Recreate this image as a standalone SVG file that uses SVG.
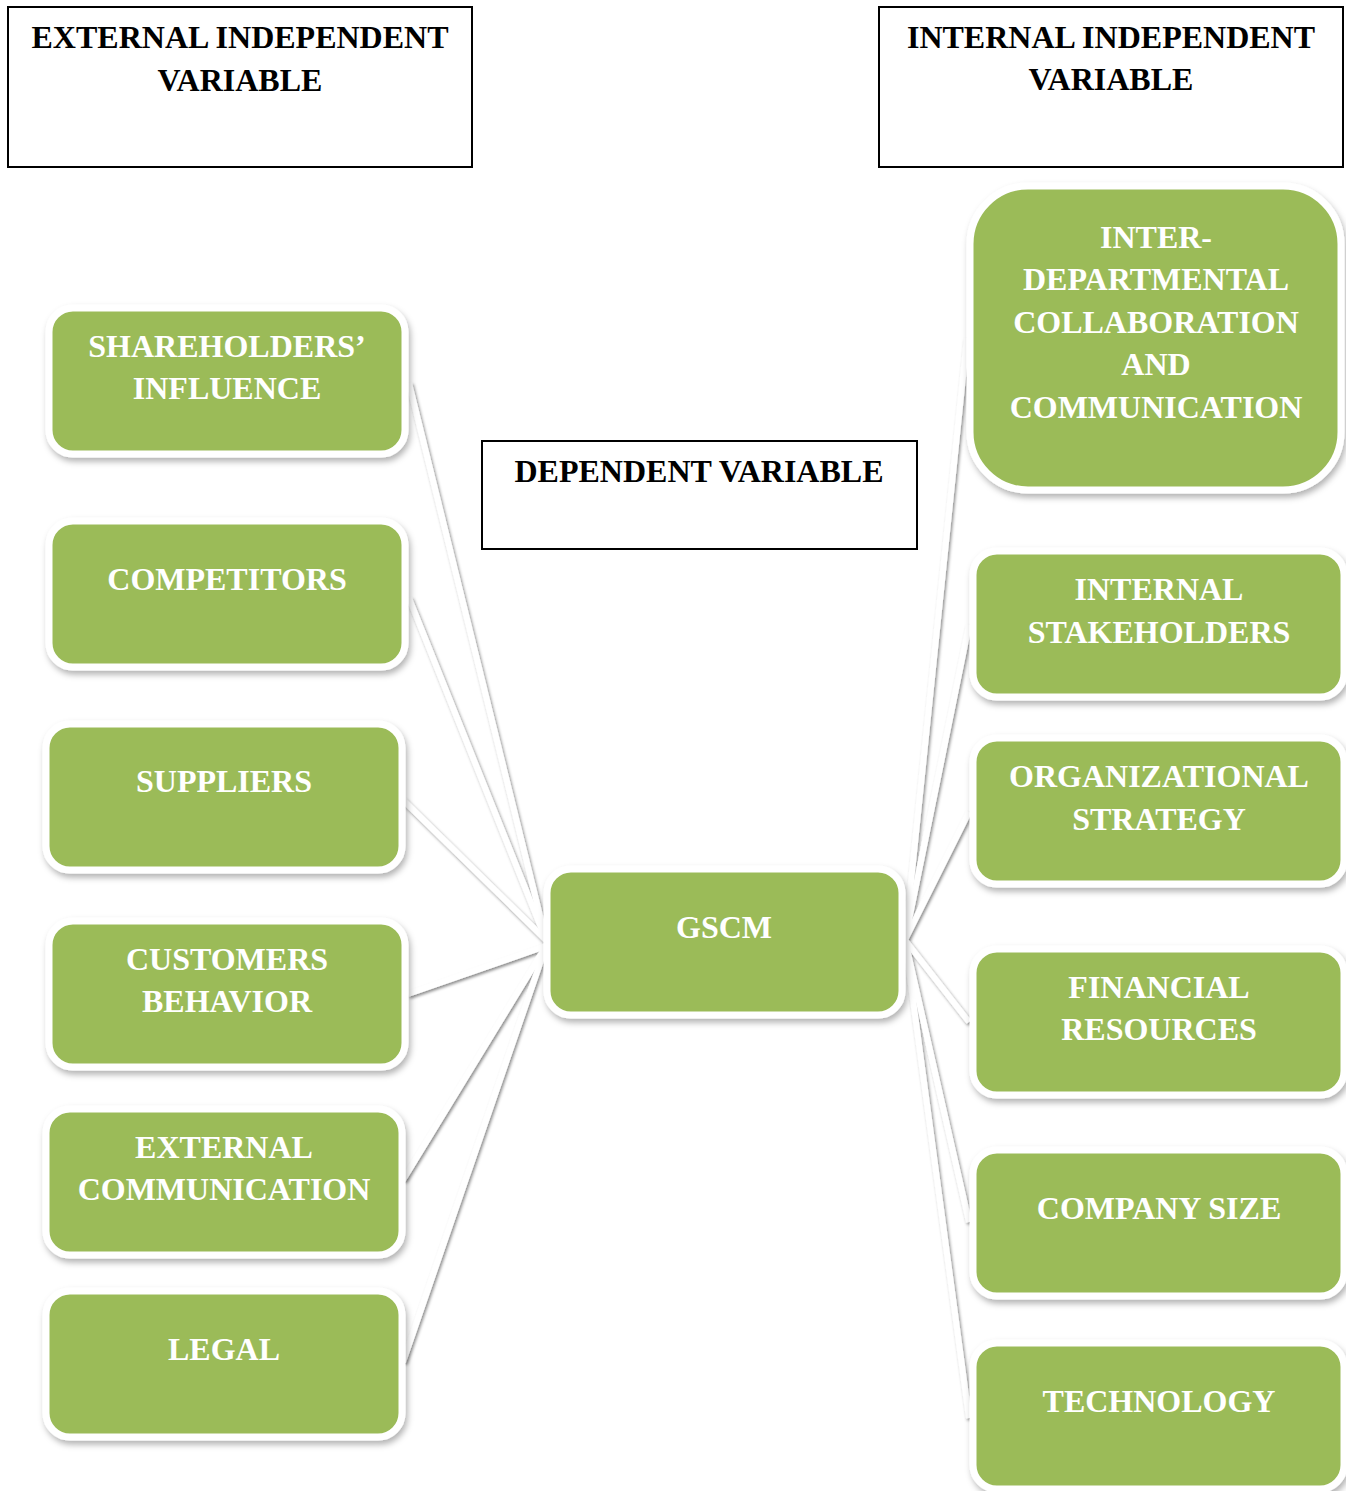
<svg xmlns="http://www.w3.org/2000/svg" width="1346" height="1491" viewBox="0 0 1346 1491">
  <defs>
    <filter id="shadow" x="-10%" y="-10%" width="125%" height="130%">
      <feDropShadow dx="2" dy="4" stdDeviation="3" flood-color="#000" flood-opacity="0.3"/>
    </filter>
    <filter id="lineShadow" x="-20%" y="-20%" width="140%" height="140%">
      <feDropShadow dx="1.5" dy="2" stdDeviation="1.5" flood-color="#000" flood-opacity="0.45"/>
    </filter>
  </defs>
  <style>
    .hdr { fill: #fff; stroke: #000; stroke-width: 2; }
    .hdr-t { font-family: "Liberation Serif", "Times New Roman", serif; font-weight: bold; font-size: 32px; fill: #000; text-anchor: middle; }
    .node { fill: #9BBB59; stroke: #fff; stroke-width: 7; filter: url(#shadow); }
    .node-t { font-family: "Liberation Serif", "Times New Roman", serif; font-weight: bold; font-size: 32px; fill: #fff; text-anchor: middle; }
    .conn line { stroke: #fff; stroke-width: 6; stroke-linecap: butt; }
  </style>

  <!-- header boxes -->
  <g id="external-header">
    <rect class="hdr" x="8" y="7" width="464" height="160"/>
    <text class="hdr-t" x="240" y="48">EXTERNAL INDEPENDENT</text>
    <text class="hdr-t" x="240" y="91">VARIABLE</text>
  </g>
  <g id="internal-header">
    <rect class="hdr" x="879" y="7" width="464" height="160"/>
    <text class="hdr-t" x="1111" y="48">INTERNAL INDEPENDENT</text>
    <text class="hdr-t" x="1111" y="90">VARIABLE</text>
  </g>
  <g id="dependent-header">
    <rect class="hdr" x="482" y="441" width="435" height="108"/>
    <text class="hdr-t" x="699" y="482">DEPENDENT VARIABLE</text>
  </g>

  <!-- connectors -->
  <g id="connectors" class="conn" filter="url(#lineShadow)">
    <line x1="409" y1="383" x2="546" y2="940"/>
    <line x1="409" y1="598" x2="546" y2="940"/>
    <line x1="403" y1="800" x2="546" y2="940"/>
    <line x1="408" y1="994" x2="546" y2="946"/>
    <line x1="403" y1="1180" x2="546" y2="946"/>
    <line x1="403" y1="1362" x2="546" y2="946"/>
    <line x1="967" y1="338" x2="905" y2="940"/>
    <line x1="969" y1="625" x2="905" y2="940"/>
    <line x1="969" y1="812" x2="905" y2="940"/>
    <line x1="969" y1="1022" x2="905" y2="940"/>
    <line x1="969" y1="1222" x2="905" y2="940"/>
    <line x1="969" y1="1418" x2="905" y2="940"/>
  </g>

  <!-- external variables -->
  <g id="shareholders">
    <rect class="node" x="49" y="308" width="356" height="146" rx="24"/>
    <text class="node-t" x="227" y="357">SHAREHOLDERS’</text>
    <text class="node-t" x="227" y="399">INFLUENCE</text>
  </g>
  <g id="competitors">
    <rect class="node" x="49" y="521" width="356" height="146" rx="24"/>
    <text class="node-t" x="227" y="590">COMPETITORS</text>
  </g>
  <g id="suppliers">
    <rect class="node" x="46" y="724" width="356" height="146" rx="24"/>
    <text class="node-t" x="224" y="792">SUPPLIERS</text>
  </g>
  <g id="customers">
    <rect class="node" x="49" y="921" width="356" height="146" rx="24"/>
    <text class="node-t" x="227" y="970">CUSTOMERS</text>
    <text class="node-t" x="227" y="1012">BEHAVIOR</text>
  </g>
  <g id="external-communication">
    <rect class="node" x="46" y="1109" width="356" height="146" rx="24"/>
    <text class="node-t" x="224" y="1158">EXTERNAL</text>
    <text class="node-t" x="224" y="1200">COMMUNICATION</text>
  </g>
  <g id="legal">
    <rect class="node" x="46" y="1291" width="356" height="146" rx="24"/>
    <text class="node-t" x="224" y="1360">LEGAL</text>
  </g>

  <!-- dependent variable -->
  <g id="gscm">
    <rect class="node" x="547" y="869" width="355" height="146" rx="24"/>
    <text class="node-t" x="724" y="938">GSCM</text>
  </g>

  <!-- internal variables -->
  <g id="inter-departmental">
    <rect class="node" x="970" y="186" width="371" height="304" rx="58"/>
    <text class="node-t" x="1156" y="248">INTER-</text>
    <text class="node-t" x="1156" y="290">DEPARTMENTAL</text>
    <text class="node-t" x="1156" y="333">COLLABORATION</text>
    <text class="node-t" x="1156" y="375">AND</text>
    <text class="node-t" x="1156" y="418">COMMUNICATION</text>
  </g>
  <g id="internal-stakeholders">
    <rect class="node" x="973" y="551" width="371" height="146" rx="24"/>
    <text class="node-t" x="1159" y="600">INTERNAL</text>
    <text class="node-t" x="1159" y="643">STAKEHOLDERS</text>
  </g>
  <g id="organizational-strategy">
    <rect class="node" x="973" y="738" width="371" height="146" rx="24"/>
    <text class="node-t" x="1159" y="787">ORGANIZATIONAL</text>
    <text class="node-t" x="1159" y="830">STRATEGY</text>
  </g>
  <g id="financial-resources">
    <rect class="node" x="973" y="949" width="371" height="146" rx="24"/>
    <text class="node-t" x="1159" y="998">FINANCIAL</text>
    <text class="node-t" x="1159" y="1040">RESOURCES</text>
  </g>
  <g id="company-size">
    <rect class="node" x="973" y="1150" width="371" height="146" rx="24"/>
    <text class="node-t" x="1159" y="1219">COMPANY SIZE</text>
  </g>
  <g id="technology">
    <rect class="node" x="973" y="1343" width="371" height="146" rx="24"/>
    <text class="node-t" x="1159" y="1412">TECHNOLOGY</text>
  </g>
</svg>
